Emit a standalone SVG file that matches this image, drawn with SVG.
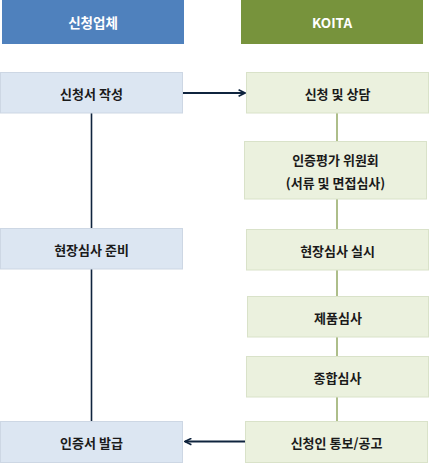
<svg xmlns="http://www.w3.org/2000/svg" width="430" height="463" viewBox="0 0 430 463">
<style>
text{font-family:"Noto Sans CJK KR","Liberation Sans",sans-serif;font-weight:bold;font-size:13px;text-anchor:middle;dominant-baseline:central;fill:#1a1a1a}
.hd{fill:#ffffff;font-size:13.5px}
.ln{fill:#DCE6F2;stroke:#CDD7E4;stroke-width:1}
.rn{fill:#EBF1DE;stroke:#D9E2C9;stroke-width:1}
.navy{stroke:#0F243E;fill:none}
.olive{stroke:#77933C;fill:none}
</style>
<defs>
<marker id="ah" viewBox="0 0 10 10" refX="9" refY="5" markerWidth="4" markerHeight="4" orient="auto-start-reverse" markerUnits="strokeWidth">
<path d="M1,1 L9,5 L1,9" fill="none" stroke="#0F243E" stroke-width="2"/>
</marker>
</defs>
<g id="connectors">
<line class="navy" x1="91.5" y1="113" x2="91.5" y2="421" stroke-width="1.6"/>
<line class="olive" x1="337" y1="113" x2="337" y2="421" stroke-width="1.2"/>
<line class="navy" x1="183" y1="93" x2="245" y2="93" stroke-width="2" marker-end="url(#ah)"/>
<line class="navy" x1="245" y1="441.5" x2="185" y2="441.5" stroke-width="2" marker-end="url(#ah)"/>
</g>
<g id="header-left"><rect x="2" y="0" width="182" height="44" fill="#4F81BD"/><text class="hd" x="93" y="22">신청업체</text></g>
<g id="header-right"><rect x="241" y="0" width="182" height="44" fill="#77933C"/><text class="hd" x="332" y="22">KOITA</text></g>
<g id="l1"><rect class="ln" x="0.5" y="72.5" width="182" height="40.5"/><text x="91.5" y="93">신청서 작성</text></g>
<g id="l2"><rect class="ln" x="0.5" y="228.5" width="182" height="40.5"/><text x="91.5" y="249">현장심사 준비</text></g>
<g id="l3"><rect class="ln" x="0.5" y="421.5" width="182" height="41"/><text x="91.5" y="442">인증서 발급</text></g>
<g id="r1"><rect class="rn" x="246.5" y="72.5" width="182" height="40.5"/><text x="337.5" y="93">신청 및 상담</text></g>
<g id="r2"><rect class="rn" x="244.5" y="141.5" width="182" height="57.5"/><text x="335.5" y="159">인증평가 위원회</text><text x="335.5" y="182">(서류 및 면접심사)</text></g>
<g id="r3"><rect class="rn" x="246.5" y="229.5" width="182" height="40.5"/><text x="337.5" y="250">현장심사 실시</text></g>
<g id="r4"><rect class="rn" x="247.5" y="296.5" width="181" height="40.5"/><text x="338" y="317">제품심사</text></g>
<g id="r5"><rect class="rn" x="246.5" y="356.5" width="182" height="40.5"/><text x="337.5" y="377">종합심사</text></g>
<g id="r6"><rect class="rn" x="245.5" y="421.5" width="182" height="41"/><text x="336.5" y="442">신청인 통보/공고</text></g>
</svg>
